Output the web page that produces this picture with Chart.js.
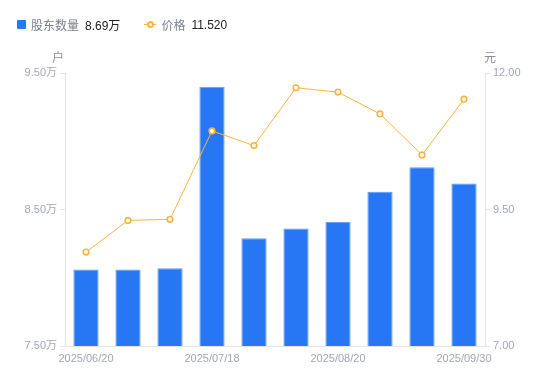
<!DOCTYPE html>
<html><head><meta charset="utf-8">
<script src="https://cdn.jsdelivr.net/npm/chart.js@4"></script>
<style>
html,body{margin:0;padding:0;background:#fff;}
#wrap{position:relative;width:550px;height:381px;}
#legend{position:absolute;left:17px;top:16px;font-family:"Liberation Sans","Noto Sans CJK SC",sans-serif;font-size:12px;display:flex;align-items:center;white-space:nowrap;}
.lg{display:flex;align-items:center;margin-right:24px;}
.sq{width:9px;height:9px;background:#2777F5;border-radius:1px;margin-right:5px;}
.ln{position:relative;width:12px;height:10px;margin-right:5px;}
.ln:before{content:"";position:absolute;left:0;right:0;top:4.5px;height:1px;background:#F7B53F;}
.ln:after{content:"";position:absolute;left:2.5px;top:1.5px;width:3px;height:3px;border:2px solid #F7B53F;border-radius:50%;background:#fff;}
.nm{color:#7a7f8c;margin-right:6px;}
.vl{color:#222;}
</style></head>
<body><div id="wrap">
<div id="legend">
 <div class="lg"><div class="sq"></div><span class="nm">股东数量</span><span class="vl" id="v1"></span></div>
 <div class="lg"><div class="ln"></div><span class="nm">价格</span><span class="vl" id="v2"></span></div>
</div>
<canvas id="c" width="550" height="381"></canvas>
</div>
<script>
const categories = ["2025/06/20","2025/06/30","2025/07/10","2025/07/18","2025/07/31","2025/08/08","2025/08/20","2025/08/29","2025/09/19","2025/09/30"];
const holders = [8.06, 8.06, 8.07, 9.40, 8.29, 8.36, 8.41, 8.63, 8.81, 8.69];
const prices = [8.72, 9.30, 9.32, 10.94, 10.67, 11.73, 11.65, 11.25, 10.50, 11.52];
const holderTicks = [7.5, 8.5, 9.5];
const priceTicks = [7.0, 9.5, 12.0];
const shownLabelIdx = [0, 3, 6, 9];

document.getElementById('v1').textContent = holders[holders.length-1].toFixed(2) + '万';
document.getElementById('v2').textContent = prices[prices.length-1].toFixed(3);

const tickFont = {family:"'Liberation Sans','Noto Sans CJK SC',sans-serif", size:11};
const tickColor = '#a3a6b4';
const lineColor = '#e3e4e8';

const unitPlugin = {
  id:'units',
  afterDraw(chart){
    const ctx = chart.ctx, a = chart.chartArea;
    ctx.save();
    ctx.font = "12px 'Noto Sans CJK SC',sans-serif";
    ctx.fillStyle = '#8a8e9b';
    ctx.textBaseline = 'middle';
    ctx.textAlign = 'center';
    ctx.fillText('户', a.left - 7, a.top - 16);
    ctx.fillText('元', a.right + 5, a.top - 16);
    ctx.restore();
  }
};

new Chart(document.getElementById('c'), {
  data:{
    labels: categories,
    datasets:[
      {type:'line', label:'价格', data: prices, yAxisID:'y1', order:0,
       borderColor:'#F7B53F', borderWidth:1, tension:0,
       pointRadius:2.8, pointBorderWidth:1.6, pointBackgroundColor:'#fff', pointBorderColor:'#F7B53F'},
      {type:'bar', label:'股东数量', data: holders, yAxisID:'y', order:1,
       backgroundColor:'#2777F5', borderColor:'#5e9af7', borderWidth:{top:1,left:1,right:1,bottom:0},
       categoryPercentage:1, barPercentage:0.6}
    ]
  },
  options:{
    responsive:false, animation:false,
    layout:{padding:{top:73, left:0, right:0, bottom:0}},
    plugins:{legend:{display:false}, tooltip:{enabled:false}},
    scales:{
      x:{
        grid:{display:false, drawTicks:false},
        border:{color:lineColor},
        ticks:{color:tickColor, font:tickFont, autoSkip:false, maxRotation:0, padding:6,
          callback:(v,i)=> shownLabelIdx.includes(i) ? categories[i] : ''},
        afterFit:(s)=>{ s.height = 35; }
      },
      y:{
        position:'left', min:7.5, max:9.5,
        afterBuildTicks:(s)=>{ s.ticks = holderTicks.map(v=>({value:v})); },
        grid:{drawOnChartArea:false, drawTicks:true, tickLength:5, color:lineColor},
        border:{color:lineColor},
        ticks:{color:tickColor, font:tickFont, padding:3, callback:(v)=> Number(v).toFixed(2)+'万'},
        afterFit:(s)=>{ s.width = 65; }
      },
      y1:{
        position:'right', min:7, max:12,
        afterBuildTicks:(s)=>{ s.ticks = priceTicks.map(v=>({value:v})); },
        grid:{drawOnChartArea:false, drawTicks:true, tickLength:5, color:lineColor},
        border:{color:lineColor},
        ticks:{color:tickColor, font:tickFont, padding:3, callback:(v)=> Number(v).toFixed(2)},
        afterFit:(s)=>{ s.width = 65; }
      }
    }
  },
  plugins:[unitPlugin]
});
</script>
</body></html>
